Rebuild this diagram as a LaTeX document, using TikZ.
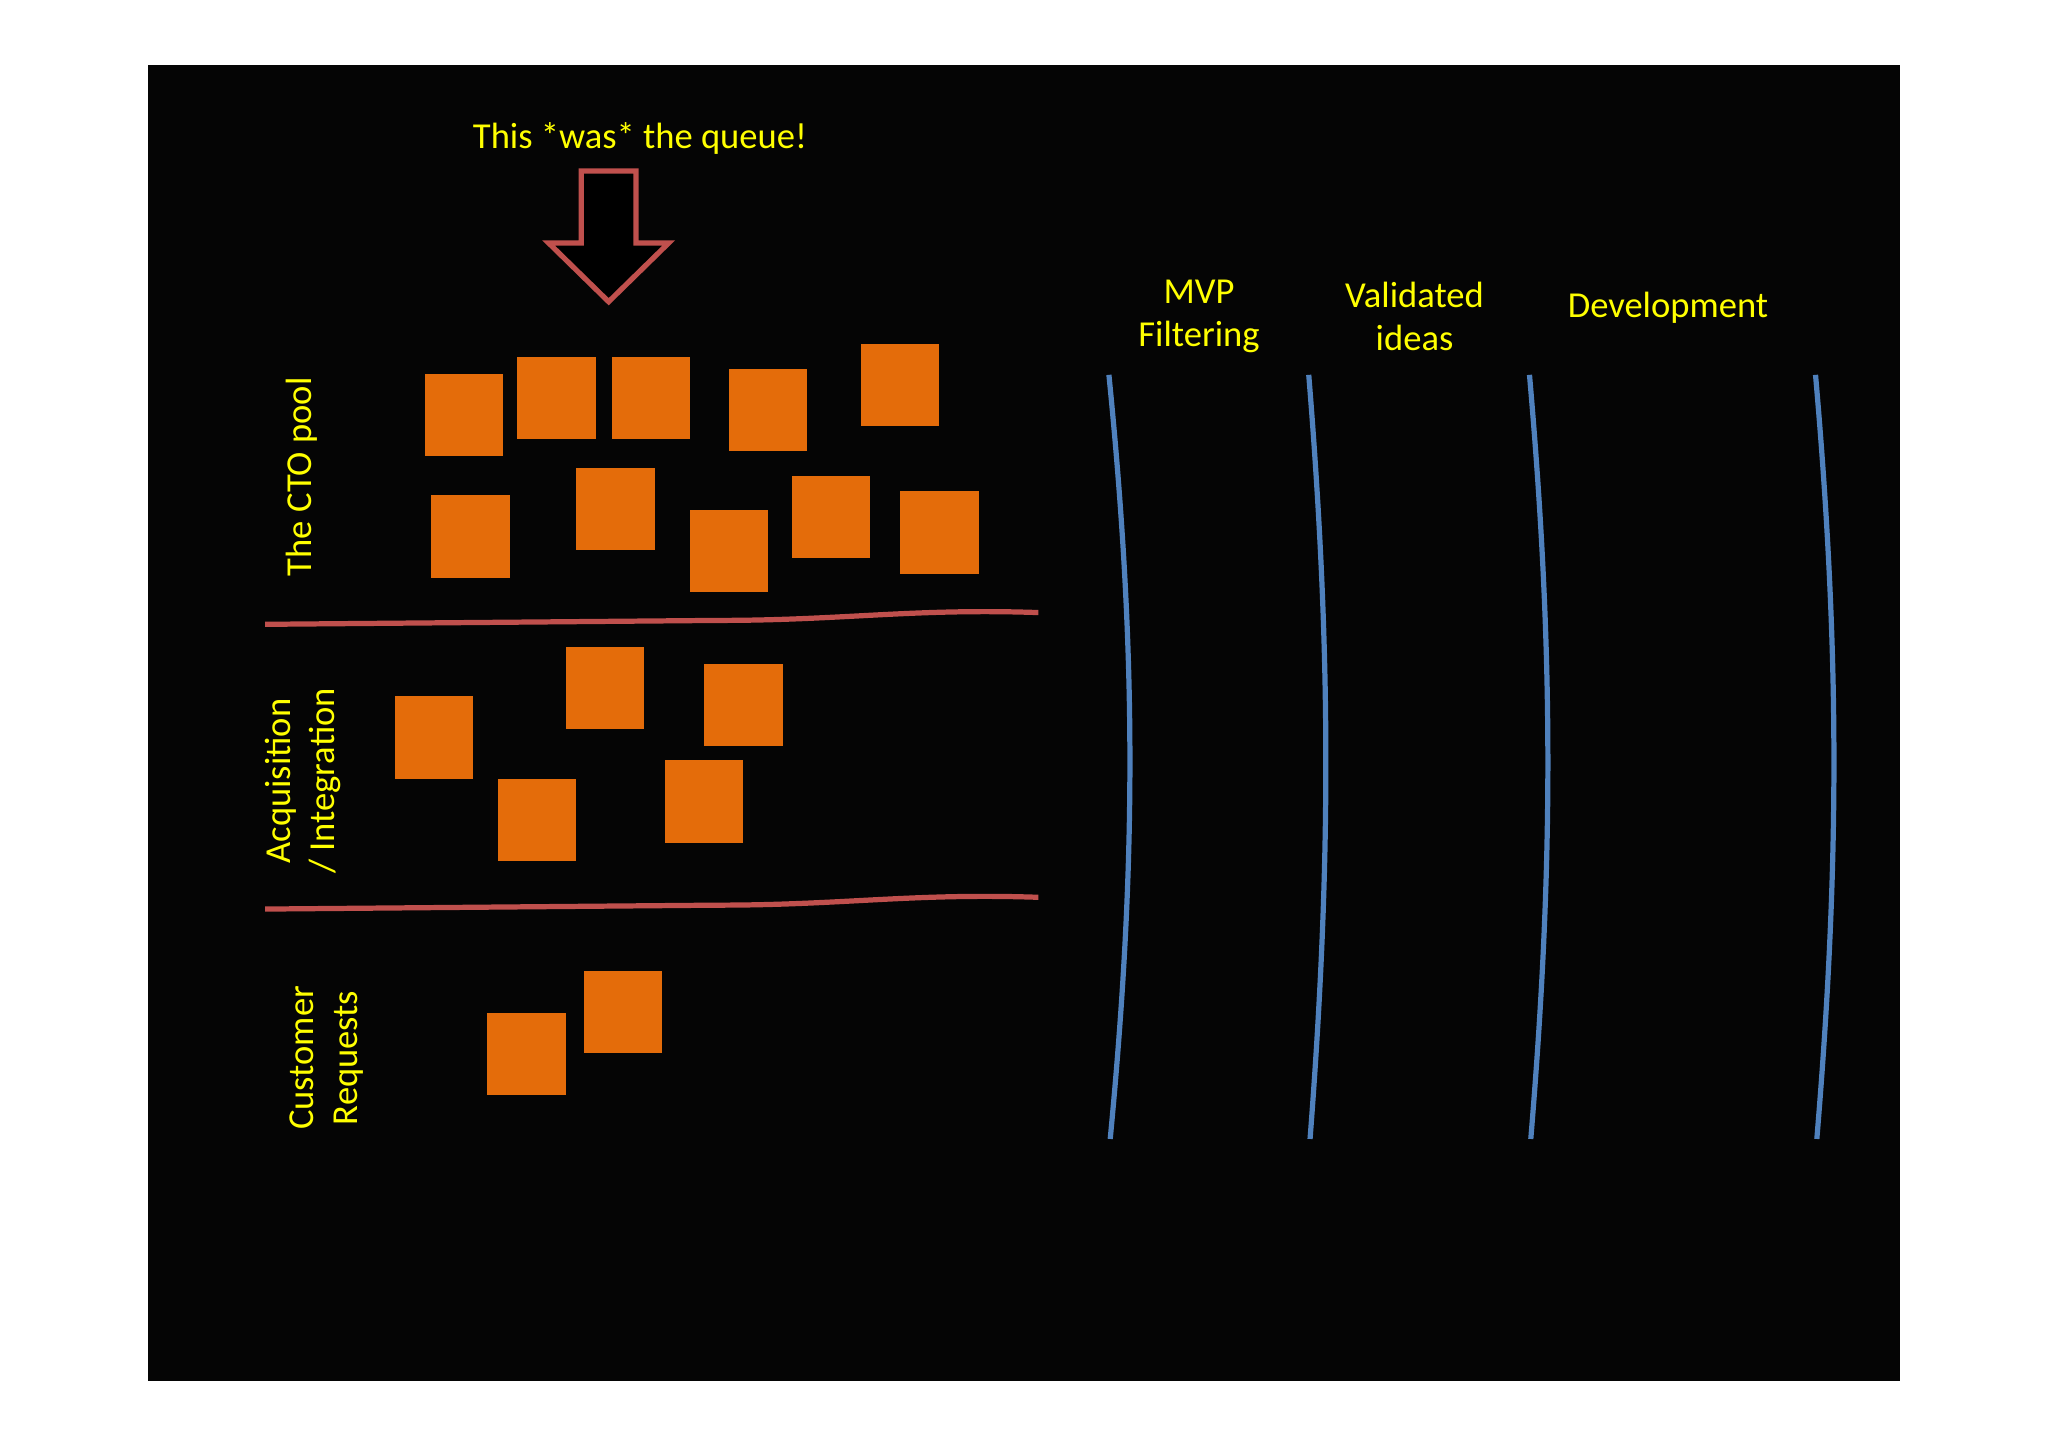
\documentclass[tikz,border=0pt]{standalone}
\usepackage{fontspec}
\setmainfont{Carlito}
\begin{document}
\begin{tikzpicture}[x=1pt,y=-1pt,
  sq/.style={fill={rgb,255:red,228;green,108;blue,10},draw=none,minimum width=60pt,minimum height=63pt,anchor=north west,inner sep=0},
  lbl/.style={text={rgb,255:red,255;green,255;blue,0},font=\fontsize{28}{33}\selectfont,align=center},
  redl/.style={draw={rgb,255:red,192;green,80;blue,77},line width=4pt},
  bluel/.style={draw={rgb,255:red,79;green,129;blue,189},line width=4pt}]
\useasboundingbox[fill=white] (0,0) rectangle (1568,1107);
\fill[black!98] (113,50) rectangle (1455,1057);
\foreach \n/\x/\y in {a/325/286,b/396/273,c/468/273,d/558/282,e/659/263,f/330/379,g/441/358,h/528/390,i/606/364,j/689/376,k/302/533,l/433/495,m/539/508,n/381/596,o/509/582,p/373/775,q/447/743}
  \node[sq] (\n) at (\x,\y) {};
\coordinate (r1a) at (203,478); \coordinate (r1b) at (795,469);
\coordinate (r2a) at (203,696); \coordinate (r2b) at (795,687);
\draw[redl] (r1a) -- (550,475) to[out=0,in=178] (r1b);
\draw[redl] (r2a) -- (550,693) to[out=0,in=178] (r2b);
\foreach \x/\b in {849/16,1002/13,1171/14,1390/14}
  \draw[bluel] (\x,287) .. controls (\x+\b*1.33,500) and (\x+\b*1.33,660) .. (\x+1,872);
\draw[draw={rgb,255:red,192;green,80;blue,77},line width=4pt,fill=black,line join=miter]
  (445,131) -- (487,131) -- (487,186) -- (512,186) -- (466,231) -- (420,186) -- (445,186) -- cycle;
\node[lbl] (t) at (490,106) {This *was* the queue!};
\node[lbl] (mvp) at (918,242) {MVP\\Filtering};
\node[lbl] (val) at (1083,242) {Validated\\ideas};
\node[lbl] (dev) at (1277,236) {Development};
\node[lbl,rotate=90] (cto) at (231,365) {The CTO pool};
\node[lbl,rotate=90] (acq) at (232,598) {Acquisition\\/ Integration};
\node[lbl,rotate=90] (cus) at (250,810) {Customer\\Requests};
\end{tikzpicture}
\end{document}
